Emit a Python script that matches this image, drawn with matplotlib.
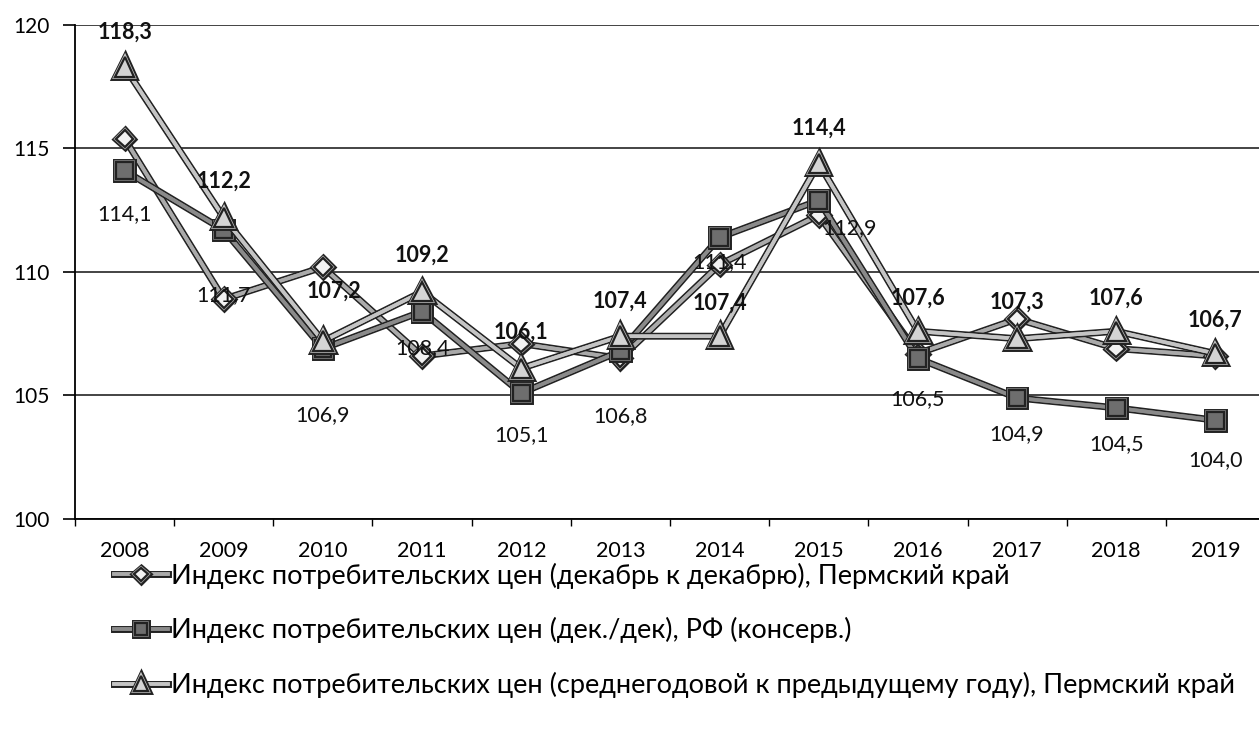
import matplotlib
matplotlib.use("Agg")
import matplotlib.pyplot as plt
import matplotlib.patheffects as pe
import numpy as np

plt.rcParams['font.family'] = ['Lato', 'DejaVu Sans']

years = ["2008", "2009", "2010", "2011", "2012", "2013", "2014", "2015", "2016", "2017", "2018", "2019"]
cpi_perm_dec = [115.4, 108.9, 110.2, 106.6, 107.1, 106.5, 110.3, 112.3, 106.7, 108.1, 106.9, 106.6]
cpi_rf_dec = [114.1, 111.7, 106.9, 108.4, 105.1, 106.8, 111.4, 112.9, 106.5, 104.9, 104.5, 104.0]
cpi_perm_avg = [118.3, 112.2, 107.2, 109.2, 106.1, 107.4, 107.4, 114.4, 107.6, 107.3, 107.6, 106.7]
series_names = [
    "Индекс потребительских цен (декабрь к декабрю), Пермский край",
    "Индекс потребительских цен (дек./дек), РФ (консерв.)",
    "Индекс потребительских цен (среднегодовой к предыдущему году), Пермский край",
]

# label offsets (points) for RF series (below) and avg series (above)
rf_offsets = [(0, -31), (0, -47), (0, -48), (0, -26), (0, -30), (0, -47), (0, -18), (22, -20), (0, -29), (0, -26), (0, -26), (0, -29)]
avg_offsets = [(0, 25), (0, 26), (8, 36), (0, 26), (0, 26), (0, 25), (0, 24), (0, 25), (0, 24), (0, 26), (0, 24), (0, 24)]

fig = plt.figure(figsize=(12.59, 7.38), dpi=100)
ax = fig.add_axes([75 / 1259, 219 / 738, 1190 / 1259, 494 / 738])
x = np.arange(len(years))

def styled(color):
    return [pe.Stroke(linewidth=5.0, foreground="#222222"), pe.Stroke(linewidth=2.6, foreground=color), pe.Normal()]

l1, = ax.plot(x, cpi_perm_dec, color="#aaaaaa", lw=2.6, marker="D", ms=9, mfc="#f2f2f2", mec="#222222", mew=1.6,
              path_effects=styled("#aaaaaa"), label=series_names[0], zorder=3)
l2, = ax.plot(x, cpi_rf_dec, color="#8a8a8a", lw=2.6, marker="s", ms=12, mfc="#6e6e6e", mec="#222222", mew=1.6,
              path_effects=styled("#8a8a8a"), label=series_names[1], zorder=4)
l3, = ax.plot(x, cpi_perm_avg, color="#c4c4c4", lw=2.6, marker="^", ms=14, mfc="#d4d4d4", mec="#222222", mew=1.6,
              path_effects=styled("#c4c4c4"), label=series_names[2], zorder=5)

for i, v in enumerate(cpi_rf_dec):
    ax.annotate(f"{v:.1f}".replace(".", ","), (x[i], v), xytext=rf_offsets[i], textcoords="offset points",
                ha="center", va="center", fontsize=15.5, color="#111111", zorder=6)
for i, v in enumerate(cpi_perm_avg):
    ax.annotate(f"{v:.1f}".replace(".", ","), (x[i], v), xytext=avg_offsets[i], textcoords="offset points",
                ha="center", va="center", fontsize=15.5, fontweight="bold", color="#111111", zorder=6)

ax.set_xlim(-0.5, len(years) - 0.5)
ax.set_ylim(100, 120)
ax.set_yticks([100, 105, 110, 115, 120])
ax.set_xticks(x)
ax.set_xticklabels(years)
ax.set_xticks(np.arange(-0.5, len(years), 1.0), minor=True)
ax.tick_params(axis="x", which="major", length=0, pad=16, labelsize=15.5)
ax.tick_params(axis="x", which="minor", length=5, width=1, direction="out")
ax.tick_params(axis="y", length=9, width=1.2, pad=9, labelsize=15, direction="out")
ax.grid(axis="y", color="#111111", lw=1.1)
for s in ["top", "right"]:
    ax.spines[s].set_visible(False)
ax.spines["left"].set_linewidth(1.3)
ax.spines["bottom"].set_linewidth(1.3)
ax.set_axisbelow(True)

fig.legend(handles=[l1, l2, l3], loc="upper left", bbox_to_anchor=(103 / 1259, 1 - 552 / 738), frameon=False,
           fontsize=19.5, labelspacing=1.05, handlelength=2.0, handletextpad=0.1, borderaxespad=0,
           markerscale=0.75)

fig.savefig("out.png", dpi=100)
